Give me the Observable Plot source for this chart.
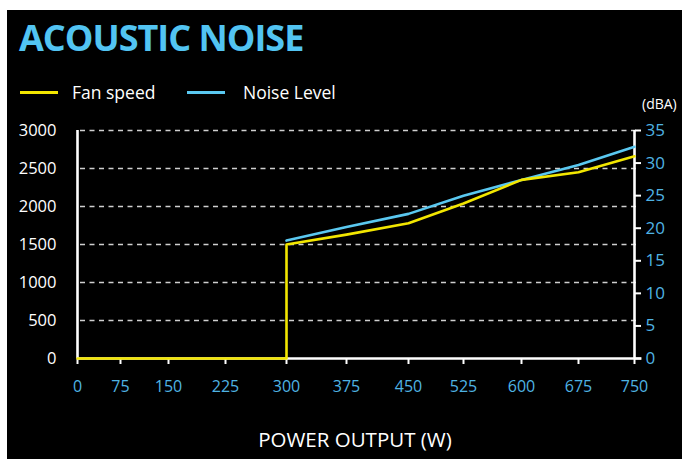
<!DOCTYPE html>
<html>
<head>
<meta charset="utf-8">
<script src="https://cdn.jsdelivr.net/npm/d3@7"></script>
<script src="https://cdn.jsdelivr.net/npm/@observablehq/plot@0.6"></script>
<style>
  html, body { margin: 0; padding: 0; background: #fff; overflow: hidden; width: 682px; height: 459px; }
  #wrap { position: absolute; left: 7px; top: 10px; width: 675px; height: 449px; background: #000; font-family: "Open Sans", sans-serif; color: #fff; }
  #title { position: absolute; left: 12px; top: 4px; font-size: 36px; font-weight: 700; color: #52c4f2; letter-spacing: -1px; line-height: 48px; white-space: nowrap; }
  .lg { position: absolute; top: 70px; font-size: 17.5px; line-height: 24px; white-space: nowrap; }
  .sw { position: absolute; top: 81px; height: 2.5px; width: 38px; }
  #unit { position: absolute; left: 635px; top: 84px; font-size: 14px; line-height: 20px; }
  #xtitle { position: absolute; left: 0; width: 696px; text-align: center; top: 415px; font-size: 20.5px; line-height: 28px; }
  #chart { position: absolute; left: 0; top: 100px; }
</style>
</head>
<body>
<div id="wrap">
  <div id="title">ACOUSTIC NOISE</div>
  <div class="sw" style="left:13px;background:#f2e600"></div>
  <div class="lg" style="left:65px">Fan speed</div>
  <div class="sw" style="left:180px;background:#5ac8f0"></div>
  <div class="lg" style="left:236px">Noise Level</div>
  <div id="unit">(dBA)</div>
  <div id="xtitle">POWER OUTPUT (W)</div>
  <div id="chart"></div>
</div>
<script>
// Data
const power = [0, 75, 150, 225, 300, 300, 375, 450, 525, 600, 675, 750];
const fanSpeed = [0, 0, 0, 0, 0, 1500, 1630, 1780, 2040, 2350, 2450, 2660];
const noisePower = [300, 375, 450, 525, 600, 675, 750];
const noiseLevel = [18.1, 20.2, 22.2, 25.0, 27.4, 29.7, 32.5];
const xTicks = [0, 75, 150, 225, 300, 375, 450, 525, 600, 675, 750];
const rpmTicks = [0, 500, 1000, 1500, 2000, 2500, 3000];
const gridTicks = [500, 1000, 1500, 2000, 2500, 3000];
const dbaTicks = [0, 5, 10, 15, 20, 25, 30, 35];

const RPM_MAX = 3000, DBA_MAX = 35;
const toRpm = d => d * RPM_MAX / DBA_MAX;

const fan = power.map((p, i) => ({p, v: fanSpeed[i]}));
const noise = noisePower.map((p, i) => ({p, v: toRpm(noiseLevel[i])}));

const blue = "#5ac8f0";
const tickBlue = "#4fb3e3";
const yellow = "#f2e600";

const chart = Plot.plot({
  width: 675,
  height: 349,
  marginTop: 20,
  marginBottom: 101,
  marginLeft: 70,
  marginRight: 48,
  style: {background: "transparent", color: "#fff", fontFamily: "Open Sans, sans-serif", fontSize: "16px"},
  x: {type: "linear", domain: xTicks, range: [70, 113, 161, 218, 279, 339, 401, 456, 514, 571, 627], axis: null, label: null},
  y: {domain: [0, RPM_MAX], axis: null, label: null},
  marks: [
    Plot.ruleY(gridTicks, {x1: 0, x2: 750, stroke: "#cfcfcf", strokeWidth: 1.6, strokeDasharray: "5,4.5", dx: 3}),
    Plot.axisY(rpmTicks, {anchor: "left", label: null, tickSize: 0, tickPadding: 21, fill: "#fff", fontSize: 16.5, tickFormat: d => String(d)}),
    Plot.axisY(dbaTicks.map(toRpm), {anchor: "right", label: null, tickSize: 6, stroke: "#fff", strokeWidth: 2, tickFormat: () => ""}),
    Plot.axisY(dbaTicks.map(toRpm), {anchor: "right", label: null, tickSize: 0, tickPadding: 11, fill: tickBlue, fontSize: 17, tickFormat: d => String(Math.round(d * DBA_MAX / RPM_MAX))}),
    Plot.axisX(xTicks, {anchor: "bottom", label: null, tickSize: 6, tickPadding: 16, stroke: "#fff", strokeWidth: 2, fill: tickBlue, fontSize: 16, tickFormat: d => String(d)}),
    Plot.ruleX([0, 750], {y1: 0, y2: RPM_MAX, stroke: "#fff", strokeWidth: 2.6}),
    Plot.ruleY([0], {x1: 0, x2: 760, stroke: "#fff", strokeWidth: 2.6}),
    Plot.line(noise, {x: "p", y: "v", stroke: blue, strokeWidth: 2.6}),
    Plot.line(fan, {x: "p", y: "v", stroke: yellow, strokeWidth: 2.6})
  ]
});
document.getElementById("chart").appendChild(chart);
</script>
</body>
</html>
